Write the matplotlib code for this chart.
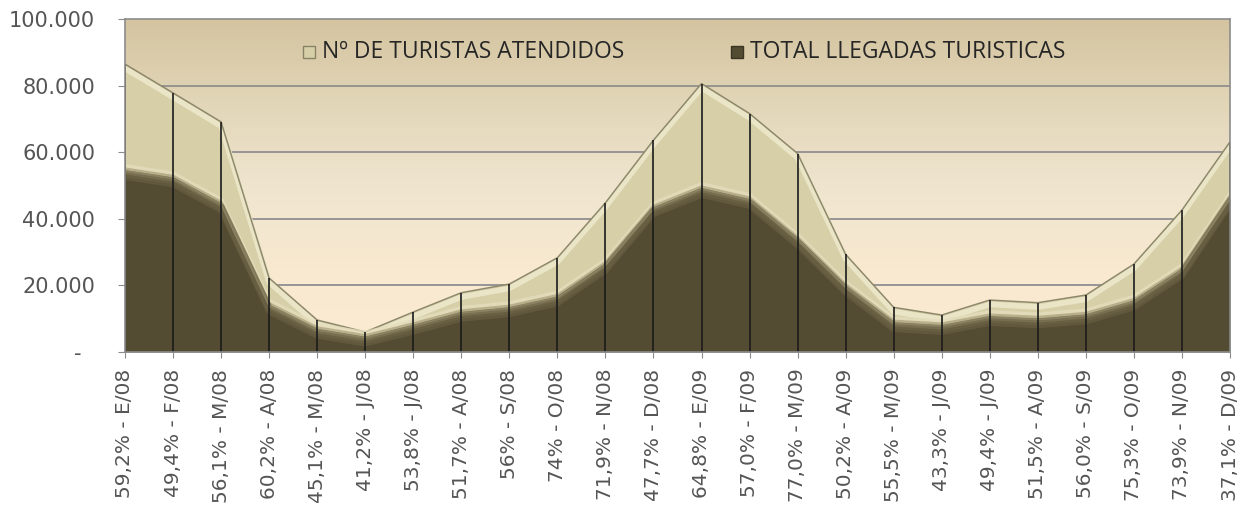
import numpy as np
import matplotlib
matplotlib.use('Agg')
import matplotlib.pyplot as plt
from matplotlib.colors import LinearSegmentedColormap
from matplotlib.patches import Rectangle
from matplotlib.ticker import FuncFormatter

months = ["E/08", "F/08", "M/08", "A/08", "M/08", "J/08", "J/08", "A/08", "S/08", "O/08", "N/08", "D/08",
          "E/09", "F/09", "M/09", "A/09", "M/09", "J/09", "J/09", "A/09", "S/09", "O/09", "N/09", "D/09"]
pcts = ["59,2%", "49,4%", "56,1%", "60,2%", "45,1%", "41,2%", "53,8%", "51,7%", "56%", "74%", "71,9%", "47,7%",
        "64,8%", "57,0%", "77,0%", "50,2%", "55,5%", "43,3%", "49,4%", "51,5%", "56,0%", "75,3%", "73,9%", "37,1%"]
llegadas = [54300, 52100, 44300, 13850, 6600, 4250, 7800, 11700, 13100, 16300, 26100, 43100,
            48900, 45600, 33700, 19500, 8600, 7750, 10450, 9750, 10950, 15100, 24500, 46000]
atendidos = [32150, 25700, 24800, 8350, 3000, 1750, 4200, 6100, 7300, 12000, 18700, 20500,
             31700, 26000, 25900, 9800, 4800, 3350, 5150, 5050, 6150, 11300, 18100, 17100]
yticks = [0, 20000, 40000, 60000, 80000, 100000]

labels = [f"{p} - {m}" for p, m in zip(pcts, months)]
x = np.arange(len(months))
dark = np.array(llegadas, dtype=float)
top = dark + np.array(atendidos, dtype=float)

fig = plt.figure(figsize=(12.52, 5.13), dpi=100)
ax = fig.add_axes([125/1252, 1 - 352/513, 1105/1252, 333/513])
ax.set_xlim(0, len(x) - 1)
ax.set_ylim(0, 100000)

# background gradient
bg = LinearSegmentedColormap.from_list("bg", ["#fbebd2", "#f8e9d0", "#efe5cf", "#e2d6b8", "#d4c4a0"])
grad = np.linspace(0, 1, 256).reshape(-1, 1)
ax.imshow(grad, cmap=bg, origin="lower", aspect="auto",
          extent=[0, len(x) - 1, 0, 100000], zorder=0)

for yv in yticks[1:-1]:
    ax.axhline(yv, color="#8f8f8f", lw=1.3, zorder=1)

# light (stacked) area
ax.fill_between(x, dark, top, color="#d6cfa7", zorder=2, lw=0)
ax.plot(x, top - 1300, color="#ebe5c7", lw=4, zorder=3, solid_joinstyle="round")
ax.plot(x, top, color="#8f896b", lw=1.1, zorder=3)
# bevel above dark
ax.plot(x, dark + 1500, color="#e4ddbd", lw=3, zorder=3, alpha=0.8)
ax.plot(x, dark + 500, color="#b4ab86", lw=3, zorder=3, alpha=0.9)
# dark area
ax.fill_between(x, 0, dark, color="#534b32", zorder=4, lw=0)
ax.plot(x, dark - 700, color="#7c7354", lw=5, zorder=5, alpha=0.9)
ax.plot(x, dark - 1800, color="#655c40", lw=4, zorder=5, alpha=0.8)
ax.plot(x, dark, color="#8a8262", lw=1.2, zorder=5)

# drop lines
ax.vlines(x, 0, top, color="#1a1a1a", lw=1.2, zorder=6)

for s in ax.spines.values():
    s.set_color("#8c8c8c")
    s.set_linewidth(1.2)
    s.set_zorder(7)

ax.set_yticks(yticks)
ax.yaxis.set_major_formatter(FuncFormatter(
    lambda v, p: "-  " if v == 0 else f"{int(v):,}".replace(",", ".")))
ax.set_xticks(x)
ax.set_xticklabels(labels, rotation=90)
ax.tick_params(axis="y", length=5, color="#8c8c8c", labelsize=15, labelcolor="#555555", pad=16.5)
ax.tick_params(axis="x", length=4, color="#8c8c8c", labelsize=14.5, labelcolor="#555555", pad=8)

# legend
def leg_item(xpix, text, fc, ec):
    fx = xpix / 1252
    fy = 1 - 52 / 513
    fig.patches.append(Rectangle((fx - 19/1252, fy - 6/513), 12/1252, 12/513,
                                 transform=fig.transFigure, facecolor=fc, edgecolor=ec, lw=1))
    fig.text(fx, fy, text, fontsize=16.5, family="Open Sans", color="#262626",
             ha="left", va="center")

leg_item(322, "Nº DE TURISTAS ATENDIDOS", "#d6cfa7", "#8a8466")
leg_item(750, "TOTAL LLEGADAS TURISTICAS", "#534b32", "#3a3422")

fig.savefig("out.png", dpi=100, facecolor="white")
